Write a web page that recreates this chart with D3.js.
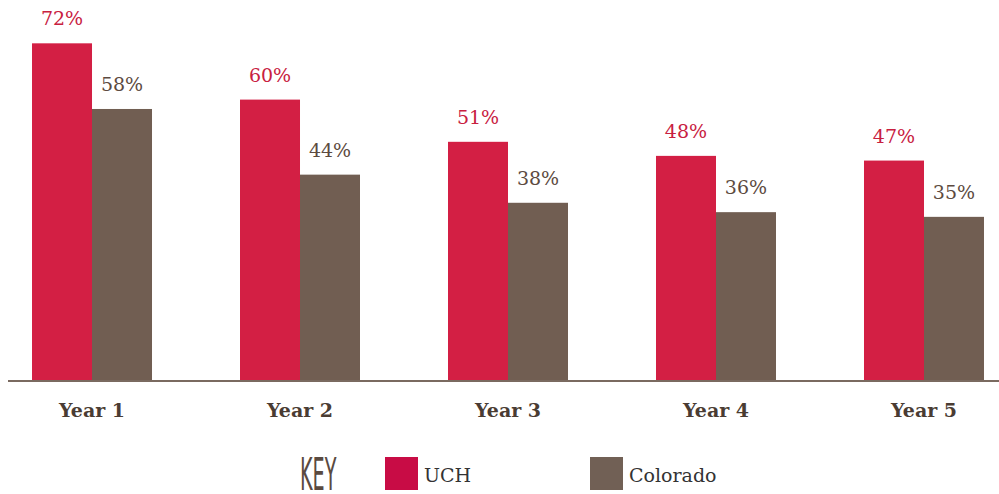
<!DOCTYPE html>
<html><head><meta charset="utf-8">
<script src="https://cdn.jsdelivr.net/npm/d3@7"></script>
<style>body{margin:0;background:#fff;}svg{display:block;}</style>
</head><body>
<svg id="c" width="999" height="494"></svg>
<script>
const categories = ["Year 1","Year 2","Year 3","Year 4","Year 5"];
const seriesNames = ["UCH","Colorado"];
const uchValues = [72,60,51,48,47];
const coloradoValues = [58,44,38,36,35];
const colors = {UCH:"#d31f44", Colorado:"#715e52"};
const labelColors = {UCH:"#c8203f", Colorado:"#5c4a40"};

const svg = d3.select("#c");
const baseline = 381;
const x = d3.scaleBand().domain(categories).range([-12, 1028]).paddingInner(0.4231).paddingOuter(0.2116);
const xs = d3.scaleBand().domain(seriesNames).range([0, x.bandwidth()]);
const y = d3.scaleLinear().domain([0, 80]).range([baseline, baseline - 80*4.69]);

const data = categories.map((c,i)=>({cat:c, vals:[{s:"UCH",v:uchValues[i]},{s:"Colorado",v:coloradoValues[i]}]}));

const g = svg.selectAll("g.grp").data(data).join("g").attr("class","grp")
  .attr("transform", d=>`translate(${x(d.cat)},0)`);
g.selectAll("rect").data(d=>d.vals).join("rect")
  .attr("x", d=>xs(d.s)).attr("width", xs.bandwidth())
  .attr("y", d=>y(d.v)).attr("height", d=>baseline - y(d.v))
  .attr("fill", d=>colors[d.s]);
g.selectAll("text.val").data(d=>d.vals).join("text").attr("class","val")
  .attr("x", d=>xs(d.s)+xs.bandwidth()/2).attr("y", d=>y(d.v)-18)
  .attr("text-anchor","middle").attr("font-family","'DejaVu Serif', serif")
  .attr("font-size", 19).attr("fill", d=>labelColors[d.s]).text(d=>d.v+"%");

// axis baseline
const xAxis = d3.axisBottom(x).tickSize(0).tickPadding(23);
const ax = svg.append("g").attr("transform",`translate(0,${baseline})`).call(xAxis);
ax.select(".domain").remove();
svg.append("line").attr("x1",8).attr("x2",999).attr("y1",baseline).attr("y2",baseline)
  .attr("stroke","#7a6a60").attr("stroke-width",2);
ax.selectAll("text").attr("font-family","'DejaVu Serif', serif").attr("font-weight","bold")
  .attr("font-size",19).attr("fill","#4a3c33");

// legend
svg.append("g").attr("transform","translate(300,490) scale(0.64,1.46)")
  .append("text").attr("x",0).attr("y",0).attr("font-family","'DejaVu Sans', sans-serif")
  .attr("font-size",30).attr("fill","#5a4a40").text("KEY");
const legX = {UCH:385, Colorado:590};
const leg = svg.selectAll("g.leg").data(seriesNames).join("g").attr("class","leg");
leg.append("rect").attr("x",d=>legX[d]).attr("y",457).attr("width",33).attr("height",33)
  .attr("fill",d=>d==="UCH"?"#c80c45":"#716055");
leg.append("text").attr("x",d=>legX[d]+39).attr("y",482)
  .attr("font-family","'DejaVu Serif', serif").attr("font-size",19).attr("fill","#333")
  .text(d=>d);
</script>
</body></html>
